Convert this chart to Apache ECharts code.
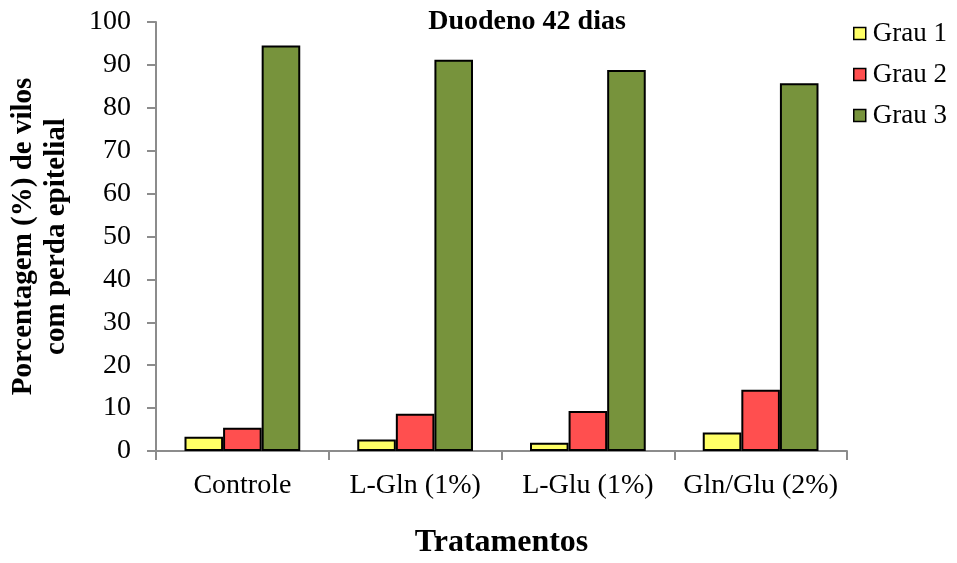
<!DOCTYPE html>
<html>
<head>
<meta charset="utf-8">
<script src="https://cdn.jsdelivr.net/npm/echarts@6/dist/echarts.min.js"></script>
<style>
  html, body { margin: 0; padding: 0; background: #fff; }
  #chart { width: 957px; height: 563px; }
</style>
</head>
<body>
<div id="chart"></div>
<script>
// Treatments on the x axis
const categories = ['Controle', 'L-Gln (1%)', 'L-Glu (1%)', 'Gln/Glu (2%)'];
// Percentage of villi with epithelial loss, by grade
const grau1 = [3.3, 2.7, 1.9, 4.3];
const grau2 = [5.4, 8.7, 9.3, 14.3];
const grau3 = [94.5, 91.2, 88.8, 85.7];
const seriesNames = ['Grau 1', 'Grau 2', 'Grau 3'];
const yTicks = { min: 0, max: 100, interval: 10 };

const serif = '"Liberation Serif", "Times New Roman", serif';
const colors = ['#ffff66', '#ff4f4f', '#77933c'];
const axisGray = '#8c8c8c';

const chart = echarts.init(document.getElementById('chart'), null, { renderer: 'canvas' });

function barSeries(name, data, color) {
  return {
    name: name,
    type: 'bar',
    data: data,
    barGap: '0%',
    barCategoryGap: '33%',
    itemStyle: { color: color, borderColor: '#000', borderWidth: 2 },
    emphasis: { disabled: true }
  };
}

chart.setOption({
  animation: false,
  backgroundColor: '#fff',
  title: {
    text: 'Duodeno 42 dias',
    left: 527,
    textAlign: 'center',
    top: 8,
    padding: 0,
    textStyle: { fontFamily: serif, fontWeight: 'bold', fontSize: 28, color: '#000' }
  },
  legend: {
    orient: 'vertical',
    left: 853,
    top: 20,
    padding: 0,
    itemWidth: 12,
    itemHeight: 12,
    itemGap: 14,
    icon: 'rect',
    data: seriesNames,
    itemStyle: { borderColor: '#000', borderWidth: 1.5 },
    textStyle: { fontFamily: serif, fontSize: 27, color: '#000', padding: [0, 0, 0, 2] }
  },
  grid: { left: 156, right: 110, top: 22, bottom: 112, containLabel: false, outerBoundsMode: 'none' },
  xAxis: {
    type: 'category',
    data: categories,
    name: 'Tratamentos',
    nameLocation: 'middle',
    nameGap: 76,
    nameTextStyle: { fontFamily: serif, fontWeight: 'bold', fontSize: 32, color: '#000' },
    axisLine: { lineStyle: { color: axisGray, width: 2 } },
    axisTick: { show: true, interval: 0, length: 9, alignWithLabel: false, lineStyle: { color: axisGray, width: 2 } },
    axisLabel: { interval: 0, hideOverlap: false, margin: 21, fontFamily: serif, fontSize: 28, color: '#000' }
  },
  yAxis: {
    type: 'value',
    min: yTicks.min,
    max: yTicks.max,
    interval: yTicks.interval,
    name: 'Porcentagem (%) de vilos\ncom perda epitelial',
    nameLocation: 'middle',
    nameGap: 83,
    nameRotate: 90,
    nameTextStyle: { fontFamily: serif, fontWeight: 'bold', fontSize: 29, color: '#000', lineHeight: 33 },
    axisLine: { show: true, lineStyle: { color: axisGray, width: 2 } },
    axisTick: { show: true, length: 9, lineStyle: { color: axisGray, width: 2 } },
    axisLabel: { margin: 25, fontFamily: serif, fontSize: 28, color: '#000' },
    splitLine: { show: false }
  },
  series: [
    barSeries(seriesNames[0], grau1, colors[0]),
    barSeries(seriesNames[1], grau2, colors[1]),
    barSeries(seriesNames[2], grau3, colors[2])
  ]
});
</script>
</body>
</html>
